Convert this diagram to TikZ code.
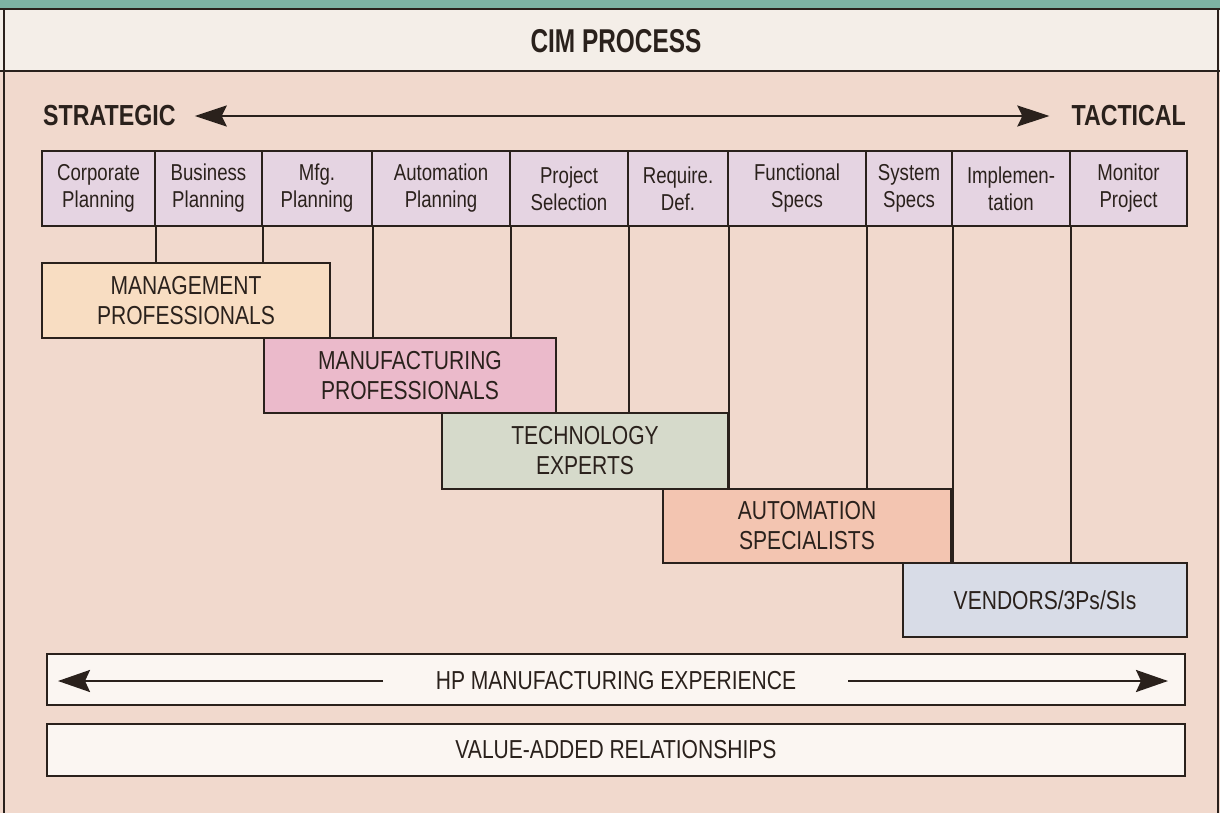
\documentclass[tikz,border=0pt]{standalone}
\usepackage{fontspec}
\setmainfont{Liberation Sans}[FakeStretch=0.81]
\newfontfamily\headfont{Liberation Sans}[FakeStretch=0.8]
\newfontfamily\titlefont{Liberation Sans}[FakeStretch=0.74]
\usetikzlibrary{arrows.meta}
\definecolor{ink}{HTML}{2A211C}
\definecolor{tealband}{HTML}{7DB3A3}
\definecolor{titlebg}{HTML}{F4EEE8}
\definecolor{mainbg}{HTML}{F1D9CD}
\definecolor{procbg}{HTML}{E5D4E2}
\definecolor{mgmtbg}{HTML}{F8DDC2}
\definecolor{manufbg}{HTML}{EBBACB}
\definecolor{techbg}{HTML}{D6DACB}
\definecolor{autobg}{HTML}{F3C5B1}
\definecolor{vendbg}{HTML}{D8DCE7}
\definecolor{barbg}{HTML}{FBF6F2}
\tikzset{
  frameline/.style={draw=ink, line width=1.5pt},
  proc/.style={draw=ink, line width=2pt, fill=procbg, minimum height=75pt, inner sep=0pt, align=center, text=ink, font=\fontsize{23}{27}\selectfont},
  grp/.style={draw=ink, line width=2pt, inner sep=0pt, align=center, text=ink, font=\fontsize{26}{30}\selectfont},
  bar/.style={draw=ink, line width=2pt, fill=barbg, inner sep=0pt, align=center, text=ink, font=\fontsize{26}{30}\selectfont},
  link/.style={draw=ink, line width=2pt},
  headlab/.style={inner sep=0pt, text=ink, font=\headfont\bfseries\fontsize{29}{32}\selectfont},
}
\begin{document}
\begin{tikzpicture}[x=1pt,y=-1pt]
\useasboundingbox (0,0) rectangle (1220,813);
\fill[tealband] (0,0) rectangle (1220,9);
\fill[titlebg] (0,9) rectangle (1220,71);
\fill[mainbg] (0,71) rectangle (1220,813);
\draw[frameline] (0,9) -- (1220,9);
\draw[frameline] (0,71) -- (1220,71);
\draw[frameline] (4,9) -- (4,813);
\draw[frameline] (1218,9) -- (1218,813);

\node[inner sep=0pt, text=ink, font=\titlefont\bfseries\fontsize{33}{36}\selectfont] (title) at (616,41) {CIM PROCESS};

\node[headlab, anchor=west] (strat) at (43,116) {STRATEGIC};
\node[headlab, anchor=east] (tact) at (1186,116) {TACTICAL};
\draw[ink, line width=2.5pt, {Stealth[length=32pt,width=21pt,inset=5pt]}-{Stealth[length=32pt,width=21pt,inset=5pt]}, shorten <=19pt, shorten >=22pt] (strat.east) -- (tact.west);

% process row
\node[proc, minimum width=113pt] (p1) at (98.5,188.5) {Corporate\\Planning};
\node[proc, minimum width=107pt] (p2) at (208.5,188.5) {Business\\Planning};
\node[proc, minimum width=110pt] (p3) at (317,188.5) {Mfg.\\Planning};
\node[proc, minimum width=138pt] (p4) at (441,188.5) {Automation\\Planning};
\node[proc, minimum width=118pt] (p5) at (569,188.5) {Project\\Selection};
\node[proc, minimum width=100pt] (p6) at (678,188.5) {Require.\\Def.};
\node[proc, minimum width=138pt] (p7) at (797,188.5) {Functional\\Specs};
\node[proc, minimum width=86pt] (p8) at (909,188.5) {System\\Specs};
\node[proc, minimum width=118pt] (p9) at (1011,188.5) {Implemen-\\tation};
\node[proc, minimum width=117pt] (p10) at (1128.5,188.5) {Monitor\\Project};

% groups
\node[grp, fill=mgmtbg, minimum width=288pt, minimum height=75pt] (g1) at (186,300.5) {MANAGEMENT\\PROFESSIONALS};
\node[grp, fill=manufbg, minimum width=292pt, minimum height=75pt] (g2) at (410,375.5) {MANUFACTURING\\PROFESSIONALS};
\node[grp, fill=techbg, minimum width=286pt, minimum height=76pt] (g3) at (585,451) {TECHNOLOGY\\EXPERTS};
\node[grp, fill=autobg, minimum width=288pt, minimum height=74pt] (g4) at (807,526) {AUTOMATION\\SPECIALISTS};
\node[grp, fill=vendbg, minimum width=284pt, minimum height=74pt] (g5) at (1045,600) {VENDORS/3Ps/SIs};

% links
\draw[link] (p1.south east) -- (p1.south east |- g1.north);
\draw[link] (p2.south east) -- (p2.south east |- g1.north);
\draw[link] (p3.south east) -- (p3.south east |- g2.north);
\draw[link] (p4.south east) -- (p4.south east |- g2.north);
\draw[link] (p5.south east) -- (p5.south east |- g3.north);
\draw[link] (p6.south east) -- (p6.south east |- g4.north);
\draw[link] (p7.south east) -- (p7.south east |- g4.north);
\draw[link] (p8.south east) -- (p8.south east |- g5.north);
\draw[link] (p9.south east) -- (p9.south east |- g5.north);

% bottom bars
\node[bar, minimum width=1138pt, minimum height=51pt] (hp) at (616,679.5) {};
\node[inner sep=0pt, text=ink, font=\fontsize{26}{30}\selectfont] (hptext) at (616,681) {HP MANUFACTURING EXPERIENCE};
\coordinate (hpL1) at (383,681);
\coordinate (hpL2) at (58,681);
\coordinate (hpR1) at (848,681);
\coordinate (hpR2) at (1168,681);
\draw[ink, line width=2.5pt, -{Stealth[length=32pt,width=22pt,inset=5pt]}] (hpL1) -- (hpL2);
\draw[ink, line width=2.5pt, -{Stealth[length=32pt,width=22pt,inset=5pt]}] (hpR1) -- (hpR2);
\node[bar, minimum width=1138pt, minimum height=52pt] (va) at (616,750) {VALUE-ADDED RELATIONSHIPS};
\end{tikzpicture}
\end{document}
